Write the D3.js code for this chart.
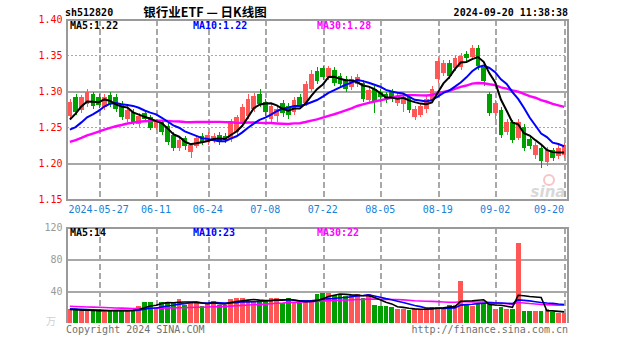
<!DOCTYPE html>
<html>
<head>
<meta charset="utf-8">
<script src="https://cdn.jsdelivr.net/npm/d3@7"></script>
<style>
  html, body { margin: 0; padding: 0; background: #fff; }
  svg { display: block; }
  text { font-family: "DejaVu Sans Mono", monospace; font-size: 10px; }
</style>
</head>
<body>
<svg id="chart" width="627" height="342"></svg>
<script>
// Daily bars, sh512820, 2024-05-20 .. 2024-09-20
const dates = ["05-20","05-21","05-22","05-23","05-24","05-27","05-28","05-29","05-30","05-31",
  "06-03","06-04","06-05","06-06","06-07","06-11","06-12","06-13","06-14","06-17",
  "06-18","06-19","06-20","06-21","06-24","06-25","06-26","06-27","06-28","07-01",
  "07-02","07-03","07-04","07-05","07-08","07-09","07-10","07-11","07-12","07-15",
  "07-16","07-17","07-18","07-19","07-22","07-23","07-24","07-25","07-26","07-29",
  "07-30","07-31","08-01","08-02","08-05","08-06","08-07","08-08","08-09","08-12",
  "08-13","08-14","08-15","08-16","08-19","08-20","08-21","08-22","08-23","08-26",
  "08-27","08-28","08-29","08-30","09-02","09-03","09-04","09-05","09-06","09-09",
  "09-10","09-11","09-12","09-13","09-18","09-19","09-20"];

const open = [1.266,1.292,1.274,1.282,1.296,1.293,1.278,1.295,1.292,1.283,
  1.262,1.272,1.255,1.270,1.264,1.250,1.257,1.252,1.240,1.222,
  1.235,1.216,1.225,1.238,1.230,1.232,1.240,1.238,1.234,1.244,
  1.258,1.266,1.276,1.296,1.286,1.262,1.266,1.284,1.280,1.272,
  1.292,1.284,1.304,1.328,1.332,1.320,1.330,1.322,1.318,1.306,
  1.310,1.312,1.288,1.304,1.300,1.296,1.300,1.284,1.282,1.292,
  1.264,1.268,1.276,1.288,1.318,1.326,1.340,1.332,1.334,1.352,
  1.348,1.360,1.334,1.296,1.270,1.275,1.244,1.257,1.236,1.251,
  1.234,1.212,1.222,1.202,1.219,1.210,1.212];

const high = [1.290,1.296,1.295,1.304,1.299,1.296,1.296,1.299,1.296,1.287,
  1.280,1.276,1.270,1.274,1.268,1.262,1.260,1.256,1.244,1.236,
  1.238,1.229,1.240,1.242,1.244,1.242,1.244,1.242,1.262,1.268,
  1.282,1.296,1.298,1.304,1.290,1.284,1.280,1.288,1.284,1.292,
  1.296,1.314,1.330,1.334,1.336,1.336,1.334,1.326,1.322,1.322,
  1.324,1.316,1.306,1.308,1.304,1.300,1.304,1.298,1.296,1.296,
  1.280,1.284,1.294,1.308,1.346,1.344,1.344,1.351,1.354,1.356,
  1.364,1.364,1.338,1.300,1.288,1.279,1.262,1.261,1.262,1.255,
  1.238,1.230,1.226,1.223,1.222,1.226,1.229];

const low = [1.262,1.268,1.270,1.278,1.276,1.277,1.275,1.278,1.272,1.260,
  1.258,1.254,1.251,1.258,1.246,1.247,1.240,1.226,1.218,1.218,
  1.219,1.208,1.221,1.226,1.226,1.228,1.226,1.228,1.230,1.240,
  1.254,1.262,1.272,1.278,1.266,1.258,1.258,1.264,1.262,1.268,
  1.276,1.280,1.300,1.310,1.316,1.316,1.308,1.306,1.300,1.302,
  1.306,1.286,1.284,1.270,1.286,1.284,1.286,1.280,1.272,1.270,
  1.260,1.264,1.270,1.284,1.312,1.322,1.318,1.328,1.330,1.342,
  1.344,1.330,1.308,1.266,1.262,1.236,1.240,1.229,1.232,1.218,
  1.220,1.206,1.194,1.196,1.203,1.206,1.208];

const close = [1.285,1.272,1.292,1.300,1.280,1.281,1.292,1.282,1.276,1.264,
  1.275,1.258,1.266,1.262,1.250,1.258,1.244,1.230,1.222,1.232,
  1.224,1.226,1.236,1.230,1.240,1.238,1.230,1.232,1.258,1.264,
  1.278,1.290,1.294,1.282,1.272,1.280,1.276,1.270,1.268,1.288,
  1.280,1.310,1.324,1.314,1.320,1.332,1.312,1.310,1.304,1.318,
  1.320,1.290,1.302,1.286,1.292,1.288,1.290,1.294,1.292,1.274,
  1.276,1.280,1.290,1.304,1.342,1.340,1.322,1.347,1.350,1.346,
  1.360,1.336,1.314,1.270,1.284,1.240,1.258,1.233,1.257,1.222,
  1.224,1.226,1.203,1.219,1.207,1.222,1.226];

// volume, 万手
const volume = [17,16,15,15,16,16,14,16,16,16,
  16,16,21,27,27,20,27,27,26,30,
  22,27,26,21,25,28,22,23,30,32,
  32,27,27,26,29,32,31,25,32,25,
  25,27,27,36,38,38,35,35,34,35,
  36,31,36,22,21,21,20,18,18,16,
  17,17,19,20,20,19,22,22,53,22,
  21,25,25,24,18,20,18,18,100,15,
  15,15,15,17,14,12,12];

// sessions before 05-20, needed for the moving averages
const priorClose = [1.196,1.200,1.198,1.204,1.202,1.208,1.206,1.210,1.212,1.214,
  1.222,1.230,1.236,1.240,1.244,1.246,1.242,1.238,1.240,1.242,
  1.238,1.226,1.230,1.240,1.231,1.232,1.242,1.266,1.281];
const priorVolume = [24,22,25,23,21,24,22,26,23,22,
  21,23,24,22,20,23,22,21,22,21,
  20,19,18,19,18,17,18,16,17];

const priceTicks = [1.15, 1.20, 1.25, 1.30, 1.35, 1.40];
const volumeTicks = [40, 80, 120];
const tickDates = ["05-27","06-11","06-24","07-08","07-22","08-05","08-19","09-02","09-20"];
const tickLabels = ["2024-05-27","06-11","06-24","07-08","07-22","08-05","08-19","09-02","09-20"];
const maPeriods = [5, 10, 30];
const maColors = ["#000000", "#0000ff", "#ff00ff"];

const UP = "#ff5656", DOWN = "#009f00", GRID = "#a8a8a8";

const left = 66.5, right = 567.5;
const priceTop = 19.5, priceBottom = 199.5;
const volTop = 227.5, volBottom = 323;

const svg = d3.select("#chart");

const x = d3.scaleBand().domain(dates).range([left + 0.5, right - 0.5])
  .paddingInner(0.18).paddingOuter(0.09);
const cx = d => x(d) + x.bandwidth() / 2;
const y = d3.scaleLinear().domain([1.15, 1.40]).range([priceBottom, priceTop]);
const vy = d3.scaleLinear().domain([0, 120]).range([volBottom, volTop]);

function movingAvg(values, prior, n) {
  const all = prior.concat(values);
  return values.map((_, i) => {
    const end = prior.length + i + 1;
    return d3.mean(all.slice(end - n, end));
  });
}
const priceMA = maPeriods.map(n => movingAvg(close, priorClose, n));
const volMA = maPeriods.map(n => movingAvg(volume, priorVolume, n));

// ---------- header ----------
svg.append("text").attr("x", 65).attr("y", 16).attr("font-weight", "bold").text("sh512820");
svg.append("text").attr("x", 205).attr("y", 17).attr("text-anchor", "middle")
  .style("font-family", "'Noto Sans CJK SC', sans-serif").style("font-size", "12.5px")
  .attr("font-weight", "bold").text("银行业ETF — 日K线图");
svg.append("text").attr("x", 568).attr("y", 16).attr("text-anchor", "end")
  .attr("font-weight", "bold").text("2024-09-20 11:38:38");

// ---------- grid ----------
const grid = svg.append("g").attr("shape-rendering", "crispEdges");
priceTicks.filter(t => t > 1.15 && t < 1.40).forEach(t => {
  const solid = Math.round(t * 100) % 10 === 0;
  grid.append("line").attr("x1", left).attr("x2", right)
    .attr("y1", Math.round(y(t)) + 0.5).attr("y2", Math.round(y(t)) + 0.5)
    .attr("stroke", GRID).attr("stroke-width", solid ? 2 : 1.5)
    .attr("stroke-dasharray", solid ? null : "2,2");
});
volumeTicks.filter(t => t < 120).forEach(t => {
  grid.append("line").attr("x1", left).attr("x2", right)
    .attr("y1", Math.round(vy(t)) + 0.5).attr("y2", Math.round(vy(t)) + 0.5)
    .attr("stroke", GRID).attr("stroke-width", 2);
});
tickDates.forEach(d => {
  const xx = Math.round(cx(d)) + 0.5;
  [[priceTop, priceBottom], [volTop, volBottom]].forEach(([a, b]) => {
    grid.append("line").attr("x1", xx).attr("x2", xx).attr("y1", a).attr("y2", b)
      .attr("stroke", GRID).attr("stroke-width", 2).attr("stroke-dasharray", "6,3");
  });
});

// ---------- watermark ----------
const wm = svg.append("g").attr("opacity", 0.45);
wm.append("circle").attr("cx", 549).attr("cy", 180).attr("r", 5)
  .attr("fill", "none").attr("stroke", "#f08080").attr("stroke-width", 2);
wm.append("text").attr("x", 548).attr("y", 197).attr("text-anchor", "middle")
  .style("font-family", "'DejaVu Sans', sans-serif").style("font-size", "15px")
  .attr("font-weight", "bold").attr("font-style", "italic").attr("fill", "#aaa").text("sina");

// ---------- candles ----------
const rows = dates.map((d, i) => ({ d, o: open[i], h: high[i], l: low[i], c: close[i], v: volume[i] }));
const candles = svg.append("g").attr("shape-rendering", "crispEdges");
candles.selectAll("line.wick").data(rows).join("line")
  .attr("x1", r => Math.round(cx(r.d)) + 0.5).attr("x2", r => Math.round(cx(r.d)) + 0.5)
  .attr("y1", r => y(r.h)).attr("y2", r => y(r.l))
  .attr("stroke", r => r.c >= r.o ? UP : DOWN);
candles.selectAll("rect.body").data(rows).join("rect")
  .attr("x", r => x(r.d)).attr("width", x.bandwidth())
  .attr("y", r => y(Math.max(r.o, r.c)))
  .attr("height", r => Math.max(1, Math.abs(y(r.o) - y(r.c))))
  .attr("fill", r => r.c >= r.o ? UP : DOWN);

// ---------- volume bars ----------
svg.append("g").attr("shape-rendering", "crispEdges")
  .selectAll("rect").data(rows).join("rect")
  .attr("x", r => x(r.d)).attr("width", x.bandwidth())
  .attr("y", r => vy(r.v)).attr("height", r => vy(0) - vy(r.v))
  .attr("fill", r => r.c >= r.o ? UP : DOWN);

// ---------- moving averages ----------
const priceLine = d3.line().x((v, i) => cx(dates[i])).y(v => y(v));
const volLine = d3.line().x((v, i) => cx(dates[i])).y(v => vy(v));
[2, 1, 0].forEach(k => {
  svg.append("path").attr("d", priceLine(priceMA[k])).attr("fill", "none")
    .attr("stroke", maColors[k]).attr("stroke-width", k === 2 ? 2.4 : 2);
  svg.append("path").attr("d", volLine(volMA[k])).attr("fill", "none")
    .attr("stroke", maColors[k]).attr("stroke-width", 1.6);
});

// ---------- frames ----------
const frame = svg.append("g").attr("fill", "none").attr("stroke", "#9a9a9a")
  .attr("stroke-width", 2).attr("shape-rendering", "crispEdges");
frame.append("rect").attr("x", left).attr("y", priceTop)
  .attr("width", right - left).attr("height", priceBottom - priceTop);
frame.append("path").attr("d", `M${left},${volBottom}V${volTop}H${right}V${volBottom}`);

// ---------- axes ----------
const yAxis = svg.append("g").attr("transform", `translate(${left - 2},0)`)
  .call(d3.axisLeft(y).tickValues(priceTicks).tickFormat(d3.format(".2f")).tickSize(0).tickPadding(2));
yAxis.select(".domain").remove();
yAxis.selectAll("text").attr("fill", "#ff0000").style("font-family", "'DejaVu Sans Mono', monospace").style("font-size", "10px");

const vAxis = svg.append("g").attr("transform", `translate(${left - 2},0)`)
  .call(d3.axisLeft(vy).tickValues(volumeTicks).tickFormat(d3.format("d")).tickSize(0).tickPadding(2));
vAxis.select(".domain").remove();
vAxis.selectAll("text").attr("fill", "#9a9a9a").style("font-family", "'DejaVu Sans Mono', monospace").style("font-size", "10px");

const xAxis = svg.append("g").attr("transform", `translate(0,${priceBottom + 6})`)
  .call(d3.axisBottom(x).tickValues(tickDates).tickFormat((d, i) => tickLabels[i]).tickSize(0).tickPadding(0));
xAxis.select(".domain").remove();
xAxis.selectAll("text").attr("fill", "#1482d8").style("font-family", "'DejaVu Sans Mono', monospace").style("font-size", "10px")
  .attr("text-anchor", (d, i) => i === tickDates.length - 1 ? "end" : "middle");

// ---------- legends ----------
const legendX = [70, 193, 317];
maPeriods.forEach((n, k) => {
  svg.append("text").attr("x", legendX[k]).attr("y", 29).attr("fill", maColors[k]).attr("font-weight", "bold")
    .text(`MA${n}:${priceMA[k][priceMA[k].length - 1].toFixed(2)}`);
  svg.append("text").attr("x", legendX[k]).attr("y", 236).attr("fill", maColors[k]).attr("font-weight", "bold")
    .text(`MA${n}:${Math.round(volMA[k][volMA[k].length - 1])}`);
});

// ---------- footer ----------
svg.append("text").attr("x", 46).attr("y", 325).attr("fill", "#cfcfcf")
  .style("font-family", "'Noto Sans CJK SC', sans-serif").style("font-size", "10px").text("万");
svg.append("text").attr("x", 66).attr("y", 333).attr("fill", "#707070").text("Copyright 2024 SINA.COM");
svg.append("text").attr("x", 568).attr("y", 333).attr("text-anchor", "end").attr("fill", "#707070")
  .text("http://finance.sina.com.cn");
</script>
</body>
</html>
